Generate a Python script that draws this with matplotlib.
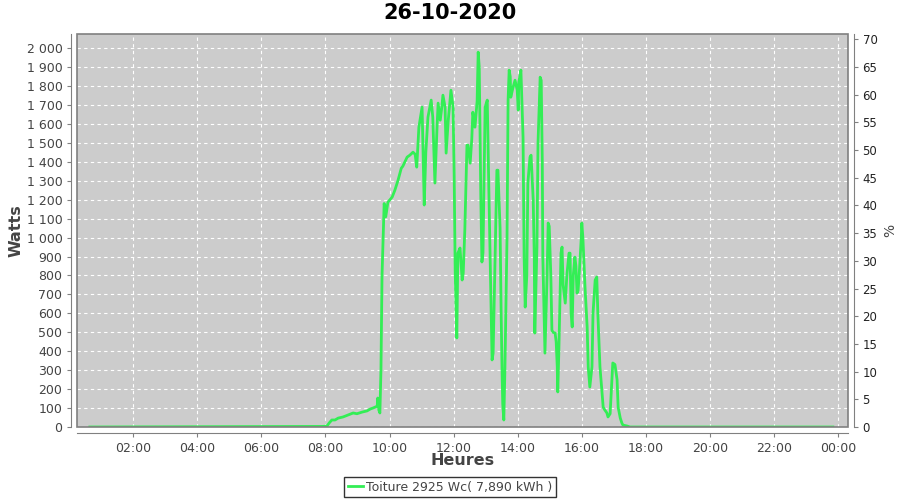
import matplotlib.pyplot as plt
from matplotlib.ticker import FuncFormatter, MultipleLocator
from matplotlib.patches import Rectangle

# Production readings (time of day, watts)
times = ["00:39", "07:50", "07:55", "08:03", "08:07", "08:12", "08:18", "08:24", "08:33",
         "08:42", "08:52", "08:59", "09:09", "09:18", "09:24", "09:29", "09:37", "09:38",
         "09:40", "09:42", "09:44", "09:46", "09:50", "09:53", "09:57", "10:05", "10:10",
         "10:16", "10:22", "10:25", "10:33", "10:38", "10:44", "10:48", "10:51", "10:55",
         "11:01", "11:05", "11:08", "11:12", "11:18", "11:21", "11:25", "11:29", "11:31",
         "11:35", "11:38", "11:40", "11:44", "11:46", "11:50", "11:55", "11:59", "12:01",
         "12:03", "12:06", "12:08", "12:12", "12:16", "12:18", "12:21", "12:25", "12:27",
         "12:31", "12:34", "12:36", "12:40", "12:44", "12:46", "12:48", "12:51", "12:53",
         "12:55", "12:59", "13:03", "13:06", "13:12", "13:14", "13:17", "13:21", "13:23",
         "13:27", "13:29", "13:31", "13:32", "13:34", "13:36", "13:40", "13:42", "13:44",
         "13:46", "13:47", "13:51", "13:55", "13:59", "14:01", "14:02", "14:06", "14:10",
         "14:12", "14:14", "14:17", "14:19", "14:23", "14:25", "14:29", "14:31", "14:32",
         "14:36", "14:38", "14:42", "14:44", "14:46", "14:47", "14:51", "14:55", "14:57",
         "14:59", "15:02", "15:04", "15:06", "15:10", "15:12", "15:14", "15:15", "15:17",
         "15:21", "15:23", "15:25", "15:29", "15:30", "15:32", "15:36", "15:38", "15:40",
         "15:42", "15:44", "15:47", "15:49", "15:51", "15:53", "15:55", "15:59", "16:00",
         "16:02", "16:06", "16:10", "16:12", "16:15", "16:19", "16:21", "16:25", "16:28",
         "16:30", "16:34", "16:38", "16:40", "16:43", "16:47", "16:49", "16:53", "16:57",
         "16:58", "17:02", "17:06", "17:08", "17:12", "17:15", "17:17", "17:25", "17:30",
         "23:50"]
watts = [0, 3, 3, 5, 21, 37, 37, 47, 53,
         63, 74, 70, 79, 85, 95, 100, 110, 153,
         90, 74, 300, 800, 1180, 1110, 1187, 1214, 1250,
         1303, 1366, 1377, 1425, 1435, 1451, 1440, 1372, 1583,
         1689, 1172, 1450, 1636, 1726, 1636, 1288, 1583, 1710,
         1620, 1690, 1752, 1690, 1446, 1620, 1778, 1690, 1340,
         812, 470, 918, 945, 776, 812, 1040, 1488, 1488,
         1393, 1520, 1662, 1583, 1720, 1979, 1900, 1198, 871,
         920, 1689, 1726, 1250, 354, 390, 800, 1356, 1356,
         1050, 600, 248, 120, 37, 300, 1000, 1726, 1884,
         1850, 1741, 1790, 1831, 1780, 1673, 1820, 1884, 1530,
         900, 633, 800, 1288, 1425, 1435, 1200, 900, 496,
         950, 1500, 1847, 1830, 1400, 900, 390, 800, 1077,
         1060, 800, 512, 500, 496, 450, 320, 185, 400,
         918, 950, 750, 654, 700, 800, 918, 918, 600,
         528, 800, 897, 850, 707, 720, 800, 1000, 1077,
         1000, 739, 528, 317, 211, 317, 602, 776, 792,
         600, 317, 179, 105, 90, 74, 53, 70, 285,
         338, 330, 250, 105, 47, 21, 10, 5, 0,
         0]
title = "26-10-2020"
legend_label = "Toiture 2925 Wc( 7,890 kWh )"

hours = [int(t[:2]) + int(t[3:]) / 60 for t in times]

fig = plt.figure(figsize=(9, 5), dpi=100)
ax = fig.add_axes([77 / 900, 1 - 427 / 500, (848 - 77) / 900, (427 - 34) / 500])
ax.set_facecolor("#cccccc")
ax.plot(hours, watts, color="#33ee55", lw=2, solid_joinstyle="round")

ax.set_xlim(0.25, 24.305)
ax.set_ylim(0, 2075)
ax.xaxis.set_major_locator(MultipleLocator(2))
ax.yaxis.set_major_locator(MultipleLocator(100))
ax.xaxis.set_major_formatter(FuncFormatter(lambda v, p: "%02d:00" % (int(round(v)) % 24)))
ax.yaxis.set_major_formatter(FuncFormatter(lambda v, p: format(int(v), ",").replace(",", " ")))
ax.grid(True, color="white", ls=(0, (3, 3)), lw=0.8)
ax.set_axisbelow(True)

# plot border + offset axis lines
for s in ax.spines.values():
    s.set_visible(False)
ax.add_patch(Rectangle((0, 0), 1, 1, transform=ax.transAxes, fill=False,
                       ec="#808080", lw=1.2, clip_on=False, zorder=5))
for side in ["left", "bottom"]:
    ax.spines[side].set_visible(True)
    ax.spines[side].set_position(("outward", 4))
    ax.spines[side].set_color("#808080")
ax.tick_params(colors="#808080", labelcolor="#444444", labelsize=9, length=3)

ax2 = ax.twinx()
ax2.set_ylim(0, 70.96)
ax2.yaxis.set_major_locator(MultipleLocator(5))
for s in ax2.spines.values():
    s.set_visible(False)
ax2.spines["right"].set_visible(True)
ax2.spines["right"].set_position(("outward", 4))
ax2.spines["right"].set_color("#808080")
ax2.tick_params(colors="#808080", labelcolor="#222222", labelsize=8.5, length=3)
ax2.set_ylabel("%", fontsize=10, color="#444444")
ax2.yaxis.set_label_coords(1.046, 0.5)

ax.set_xlabel("Heures", fontsize=11.5, fontweight="bold", color="#444444")
ax.set_ylabel("Watts", fontsize=11.5, fontweight="bold", color="#444444")
ax.xaxis.set_label_coords(0.5, -0.066)
ax.yaxis.set_label_coords(-0.07, 0.5)
fig.text(0.5, 1 - 13 / 500, title, ha="center", va="center", fontsize=15, fontweight="bold")

leg = fig.legend([ax.lines[0]], [legend_label], loc="center",
                 bbox_to_anchor=(0.5, 1 - 487 / 500), frameon=True, fancybox=False,
                 fontsize=9, handlelength=1.2, handletextpad=0.2, borderpad=0.3,
                 labelcolor="#444444")
leg.get_frame().set_edgecolor("black")
leg.get_frame().set_linewidth(1)

fig.savefig("out.png", dpi=100)
